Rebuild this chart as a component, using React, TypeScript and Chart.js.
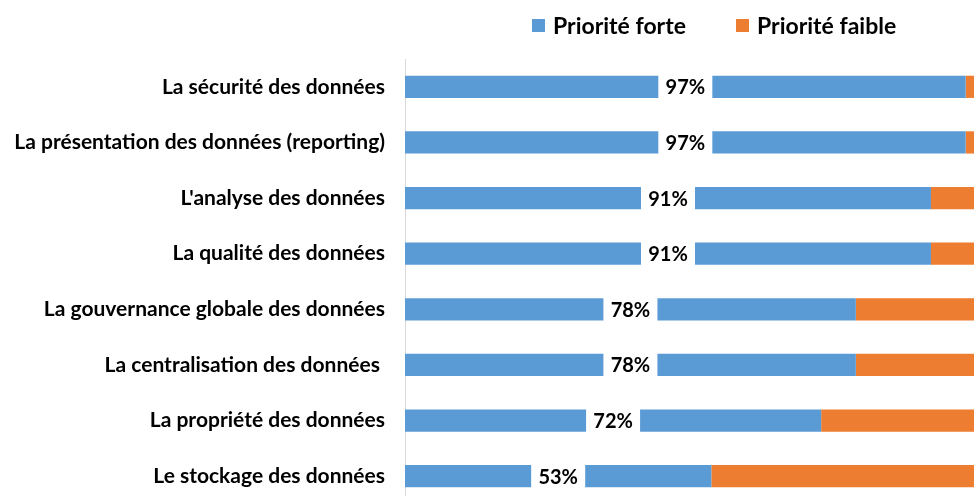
import React, { useEffect, useRef } from "react";
import { Chart, registerables } from "chart.js";

Chart.register(...registerables);

const categories = [
  "La sécurité des données",
  "La présentation des données (reporting)",
  "L'analyse des données",
  "La qualité des données",
  "La gouvernance globale des données",
  "La centralisation des données ",
  "La propriété des données",
  "Le stockage des données",
];
const prioriteForte = [97, 97, 91, 91, 78, 78, 72, 53];
const prioriteFaible = [3, 3, 9, 9, 22, 22, 28, 47];
const seriesNames = ["Priorité forte", "Priorité faible"];
const seriesColors = ["#5B9BD5", "#ED7D31"];

const FONT = "Lato, sans-serif";

const valueLabels = {
  id: "valueLabels",
  afterDatasetsDraw(chart: any) {
    const ctx = chart.ctx;
    const meta = chart.getDatasetMeta(0);
    ctx.save();
    ctx.font = `bold 20px ${FONT}`;
    ctx.textAlign = "center";
    ctx.textBaseline = "middle";
    meta.data.forEach((bar: any, i: number) => {
      const cx = (bar.x + bar.base) / 2;
      const h = bar.height;
      const w = 54;
      ctx.fillStyle = "#ffffff";
      ctx.fillRect(cx - w / 2, bar.y - h / 2 - 2, w, h + 4);
      ctx.fillStyle = "#000000";
      ctx.fillText(prioriteForte[i] + "%", cx, bar.y + 1);
    });
    ctx.restore();
  },
};

const customLegend = {
  id: "customLegend",
  afterDraw(chart: any) {
    const ctx = chart.ctx;
    ctx.save();
    ctx.font = `bold 23px ${FONT}`;
    ctx.textBaseline = "middle";
    ctx.textAlign = "left";
    const startX = 532;
    const step = 204;
    const y = 25.5;
    chart.data.datasets.forEach((ds: any, i: number) => {
      const x = startX + i * step;
      ctx.fillStyle = ds.backgroundColor;
      ctx.fillRect(x, y - 6.5, 13, 13);
      ctx.fillStyle = "#000000";
      ctx.fillText(ds.label, x + 21, y + 1);
    });
    ctx.restore();
  },
};

export default function App() {
  const ref = useRef<HTMLCanvasElement>(null);
  useEffect(() => {
    if (!ref.current) return;
    const chart = new Chart(ref.current, {
      type: "bar",
      data: {
        labels: categories,
        datasets: [
          {
            label: seriesNames[0],
            data: prioriteForte,
            backgroundColor: seriesColors[0],
            barPercentage: 0.4,
            categoryPercentage: 1,
          },
          {
            label: seriesNames[1],
            data: prioriteFaible,
            backgroundColor: seriesColors[1],
            barPercentage: 0.4,
            categoryPercentage: 1,
          },
        ],
      },
      options: {
        indexAxis: "y",
        responsive: false,
        animation: false,
        layout: { padding: { top: 59, right: 1, bottom: 1, left: 0 } },
        plugins: {
          legend: { display: false },
          tooltip: { enabled: false },
        },
        scales: {
          x: {
            stacked: true,
            min: 0,
            max: 100,
            display: false,
          },
          y: {
            stacked: true,
            afterFit: (s: any) => {
              s.width = 405;
              s.paddingTop = 0;
              s.paddingBottom = 0;
            },
            grid: { display: false, drawTicks: false },
            border: { display: true, color: "#d9d9d9", width: 1 },
            ticks: {
              padding: 20,
              color: "#000000",
              font: { family: FONT, size: 21, weight: "bold" },
            },
          },
        },
      },
      plugins: [valueLabels, customLegend],
    });
    return () => chart.destroy();
  }, []);
  return (
    <div
      style={{
        position: "fixed",
        left: 0,
        top: 0,
        width: 974,
        height: 496,
        overflow: "hidden",
        background: "#ffffff",
      }}
    >
      <canvas ref={ref} width={984} height={505} style={{ width: 984, height: 505, display: "block" }} />
    </div>
  );
}
